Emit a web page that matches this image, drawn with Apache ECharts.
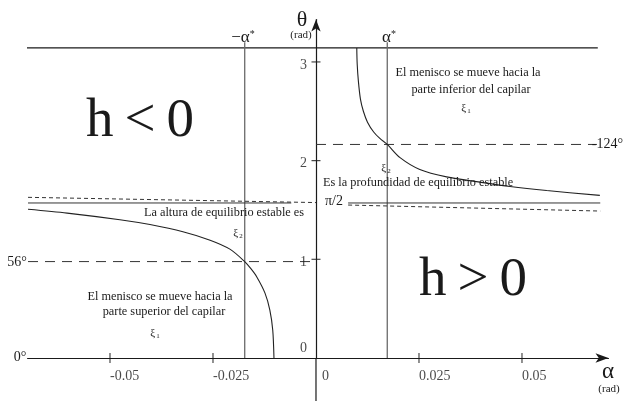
<!DOCTYPE html>
<html>
<head>
<meta charset="utf-8">
<script src="https://cdn.jsdelivr.net/npm/echarts@6/dist/echarts.min.js"></script>
<style>
  html, body { margin: 0; padding: 0; background: #fff; }
  #chart { width: 623px; height: 401px; }
</style>
</head>
<body>
<div id="chart"></div>
<script>
const SERIF = "'Liberation Serif', 'Times New Roman', serif";
const INK = '#1a1a1a';

// Axis ticks / labels
const alphaTicks = [-0.05, -0.025, 0.025, 0.05];
const alphaLabels = [-0.05, -0.025, 0, 0.025, 0.05];
const thetaTicks = [1, 2, 3];
const thetaLabels = [0, 1, 2, 3];

// theta(alpha) branch for alpha < 0 (h < 0)
const leftAlpha = [-0.0699, -0.0604, -0.0476, -0.0403, -0.0323, -0.0257, -0.0209, -0.0173, -0.0158, -0.0144, -0.0124, -0.0112, -0.0105, -0.0102];
const leftTheta = [1.507, 1.468, 1.401, 1.352, 1.280, 1.194, 1.103, 0.977, 0.905, 0.824, 0.660, 0.486, 0.283, 0];

// theta(alpha) branch for alpha > 0 (h > 0)
const rightAlpha = [0.0099, 0.0100, 0.0103, 0.0108, 0.0115, 0.0125, 0.0140, 0.0155, 0.0173, 0.0204, 0.0252, 0.0317, 0.0398, 0.0471, 0.0560, 0.0689];
const rightTheta = [3.1416, 2.98, 2.80, 2.62, 2.50, 2.39, 2.29, 2.225, 2.164, 2.030, 1.910, 1.835, 1.782, 1.738, 1.697, 1.648];

// Reference levels
const alphaStar = 0.0173;
const thetaPi = 3.1416;
const thetaHalfPi = 1.5708;
const theta124 = 2.164;   // 124 deg
const theta56 = 0.977;    // 56 deg

// Segment endpoints (alpha, theta)
const topLine = [[-0.0708, thetaPi], [0.0684, thetaPi]];
const halfPiLeft = [[-0.0699, thetaHalfPi], [-0.0060, thetaHalfPi]];
const halfPiRight = [[0.0078, thetaHalfPi], [0.0690, thetaHalfPi]];
const nearHalfPiLeft = [[-0.0699, 1.628], [0, 1.575]];
const nearHalfPiRight = [[0.0078, 1.550], [0.0690, 1.489]];
const line124 = [[0, theta124], [0.0682, theta124]];
const line56 = [[-0.0699, theta56], [0, theta56]];
const vLeft = [[-alphaStar, 0], [-alphaStar, 3.2]];
const vRight = [[alphaStar, 0], [alphaStar, 3.2]];
const yAxisTail = [[0, 0], [0, -0.44]];

const zip = (xs, ys) => xs.map((x, i) => [x, ys[i]]);

function seg(data, color, width, type) {
  return {
    type: 'line', data, clip: false, symbol: 'none', silent: true,
    lineStyle: { color, width, type: type || 'solid' }, z: 3
  };
}

const chart = echarts.init(document.getElementById('chart'), null, { renderer: 'canvas' });

function txt(text, x, y, size, align, extra) {
  return {
    type: 'text', x, y, silent: true, z: 20,
    style: Object.assign({
      text, font: size + 'px ' + SERIF, fill: INK,
      align: align || 'center', verticalAlign: 'middle'
    }, extra || {})
  };
}

function richTxt(text, rich, x, y) {
  return { type: 'text', x, y, silent: true, z: 20,
    style: { text, rich, align: 'center', verticalAlign: 'middle' } };
}

const xiRich = {
  x: { fontFamily: SERIF, fontSize: 11, fill: INK },
  s: { fontFamily: SERIF, fontSize: 7, fill: INK, padding: [7, 0, 0, 1] }
};
const supRich = {
  a: { fontFamily: SERIF, fontSize: 17, fill: INK },
  s: { fontFamily: SERIF, fontSize: 10, fill: INK, padding: [0, 0, 8, 0] }
};

const labelFont = { fontSize: 14, fontFamily: SERIF, color: INK };

const option = {
  backgroundColor: '#fff',
  animation: false,
  grid: { left: 27.6, right: 14.5, top: 19.5, bottom: 43, containLabel: false },
  xAxis: {
    type: 'value', min: -0.07, max: 0.071,
    axisLine: { onZero: true, symbol: ['none', 'arrow'], symbolSize: [7, 13],
      lineStyle: { color: INK, width: 1.2 } },
    axisTick: { show: false },
    splitLine: { show: false },
    axisLabel: { show: false }
  },
  yAxis: {
    type: 'value', min: 0, max: 3.43,
    axisLine: { onZero: true, symbol: ['none', 'arrow'], symbolSize: [7, 12],
      lineStyle: { color: INK, width: 1.2 } },
    axisTick: { show: false },
    splitLine: { show: false },
    axisLabel: { show: false }
  },
  series: [
    // Crossing tick marks on both axes
    { type: 'scatter', data: alphaTicks.map(a => [a, 0]), symbol: 'rect',
      symbolSize: [1.2, 10], itemStyle: { color: INK }, silent: true, clip: false, z: 4 },
    { type: 'scatter', data: thetaTicks.map(t => [0, t]), symbol: 'rect',
      symbolSize: [9, 1.2], itemStyle: { color: INK }, silent: true, clip: false, z: 4 },
    // Alpha tick labels, left-aligned at each tick
    { type: 'scatter', data: alphaLabels.map(a => [a, 0]), symbolSize: 0, silent: true, clip: false, z: 6,
      label: { show: true, position: [0, 11], align: 'left', verticalAlign: 'top',
        formatter: p => p.value[0] === 0 ? '{z|0}' : String(p.value[0]),
        ...labelFont,
        rich: { z: { padding: [0, 0, 0, 6], ...labelFont } } } },
    // Theta tick labels, left of the axis
    { type: 'scatter', data: thetaLabels.map(t => [0, t]), symbolSize: 0, silent: true, clip: false, z: 6,
      label: { show: true, position: [-9, 0], align: 'right', verticalAlign: 'middle',
        formatter: p => p.value[1] === 0 ? '{lo|0}' : '{n|' + p.value[1] + '}',
        ...labelFont,
        rich: {
          lo: { padding: [0, 0, 20, 0], ...labelFont },
          n: { padding: [6, 0, 0, 0], ...labelFont }
        } } },
    seg(yAxisTail, INK, 1.2),
    seg(topLine, INK, 1.2),
    seg(vLeft, '#6a6a6a', 1.3),
    seg(vRight, '#6a6a6a', 1.3),
    seg(halfPiLeft, '#333', 1),
    seg(halfPiRight, '#333', 1),
    seg(nearHalfPiLeft, '#333', 1, [4, 3]),
    seg(nearHalfPiRight, '#333', 1, [4, 3]),
    seg(line124, '#333', 1, [10, 7]),
    seg(line56, '#333', 1, [10, 7]),
    {
      type: 'line', data: zip(leftAlpha, leftTheta), symbol: 'none', clip: false, silent: true,
      smooth: 0.3, lineStyle: { color: '#222', width: 1.1 }, z: 5
    },
    {
      type: 'line', data: zip(rightAlpha, rightTheta), symbol: 'none', clip: false, silent: true,
      smooth: 0.3, lineStyle: { color: '#222', width: 1.1 }, z: 5
    }
  ],
  graphic: [
    txt('θ', 302, 20, 22),
    txt('(rad)', 301, 35, 11),
    richTxt('{a|−α}{s|*}', supRich, 243, 38),
    richTxt('{a|α}{s|*}', supRich, 389, 38),
    txt('h\u2009<\u20090', 140, 122, 55),
    txt('h\u2009>\u20090', 473, 281, 55),
    txt('El menisco se mueve hacia la', 468, 73, 12.3),
    txt('parte inferior del capilar', 471, 90, 12.3),
    richTxt('{x|ξ}{s|1}', xiRich, 466, 108),
    txt('-124°', 623, 144, 14, 'right'),
    richTxt('{x|ξ}{s|2}', xiRich, 386, 168),
    txt('Es la profundidad de equilibrio estable', 323, 183, 12.3, 'left'),
    txt('π/2', 334, 201, 14, 'center', { backgroundColor: '#fff', padding: [0, 2, 0, 2] }),
    txt('La altura de equilibrio estable es', 224, 213, 12.3),
    richTxt('{x|ξ}{s|2}', xiRich, 238, 233),
    txt('56°', 17, 262, 14),
    txt('El menisco se mueve hacia la', 160, 297, 12.3),
    txt('parte superior del capilar', 164, 312, 12.3),
    richTxt('{x|ξ}{s|1}', xiRich, 155, 333),
    txt('0°', 20, 357, 14),
    txt('α', 608, 372, 23),
    txt('(rad)', 609, 389, 11)
  ]
};

chart.setOption(option);
</script>
</body>
</html>
